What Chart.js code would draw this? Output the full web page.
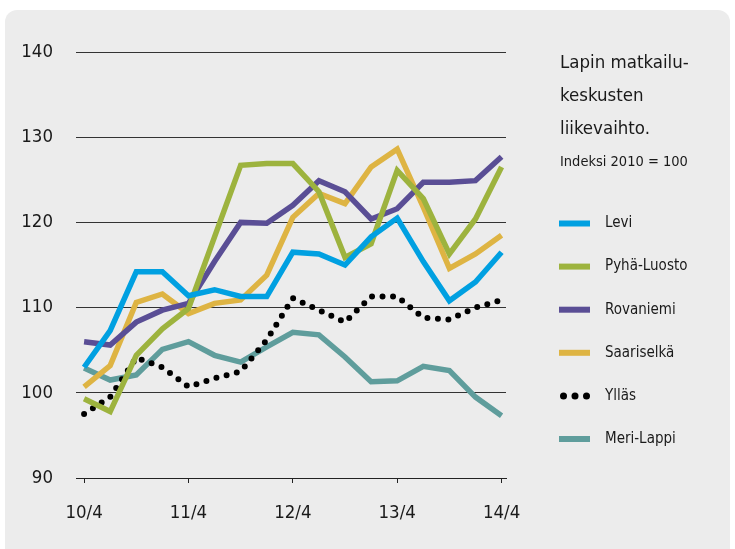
<!DOCTYPE html>
<html>
<head>
<meta charset="utf-8">
<title>Lapin matkailukeskusten liikevaihto</title>
<script src="https://cdn.jsdelivr.net/npm/chart.js@4.4.1/dist/chart.umd.min.js"></script>
<style>
  html, body { margin: 0; padding: 0; background: #ffffff; }
  #wrap { position: relative; width: 735px; height: 549px; overflow: hidden; }
  #card {
    position: absolute; left: 5px; top: 10px; width: 725px; height: 580px;
    background: #ececec; border-radius: 12px;
  }
  #myChart { position: absolute; left: 0; top: 0; }
</style>
</head>
<body>
<div id="wrap">
  <div id="card"></div>
  <canvas id="myChart" width="735" height="549"></canvas>
</div>
<script>
/////////////////////////////
// Data
/////////////////////////////

// quarters 10/4 .. 14/4
const quarters = ['10/4', '11/1', '11/2', '11/3', '11/4', '12/1', '12/2', '12/3', '12/4',
                  '13/1', '13/2', '13/3', '13/4', '14/1', '14/2', '14/3', '14/4'];
const tickLabels = ['10/4', '11/4', '12/4', '13/4', '14/4'];
const yTicks = [90, 100, 110, 120, 130, 140];

const levi       = [103.0, 107.3, 114.2, 114.2, 111.4, 112.1, 111.3, 111.3, 116.5, 116.3, 115.0, 118.3, 120.5, 115.4, 110.8, 113.0, 116.5];
const pyhaLuosto = [99.3, 97.8, 104.4, 107.5, 109.9, 118.3, 126.7, 126.9, 126.9, 123.6, 115.9, 117.5, 126.1, 122.8, 116.3, 120.4, 126.5];
const rovaniemi  = [106.0, 105.6, 108.3, 109.7, 110.5, 115.4, 120.0, 119.9, 122.0, 124.9, 123.6, 120.4, 121.6, 124.7, 124.7, 124.9, 127.7];
const saariselka = [100.7, 103.2, 110.6, 111.6, 109.3, 110.5, 110.9, 113.8, 120.6, 123.4, 122.2, 126.5, 128.6, 121.8, 114.6, 116.3, 118.5];
const yllas      = [97.5, 99.5, 104.1, 103.0, 100.7, 101.7, 102.5, 106.2, 111.1, 109.7, 108.3, 111.3, 111.3, 108.8, 108.6, 110.0, 110.9];
const meriLappi  = [102.9, 101.5, 102.1, 105.1, 106.0, 104.4, 103.6, 105.4, 107.1, 106.8, 104.2, 101.3, 101.4, 103.1, 102.6, 99.5, 97.3];

const titleLines = ['Lapin matkailu-', 'keskusten', 'liikevaihto.'];
const subTitle = 'Indeksi 2010 = 100';

const FONT = '"Liberation Sans Narrow", "DejaVu Sans Condensed", "Roboto", sans-serif';

/////////////////////////////
// Helpers
/////////////////////////////

function toPoints(values) {
  return values.map((v, i) => ({ x: i, y: v }));
}

function series(label, values, color, dotted) {
  return {
    label: label,
    data: toPoints(values),
    borderColor: color,
    backgroundColor: color,
    borderWidth: dotted ? 6 : 5.5,
    borderCapStyle: dotted ? 'round' : 'butt',
    borderJoinStyle: 'miter',
    borderDash: dotted ? [0, 10.5] : [],
    pointRadius: 0,
    tension: 0,
    dotted: dotted
  };
}

// Title + legend on the right side
const sideLegend = {
  id: 'sideLegend',
  afterDraw(chart) {
    const ctx = chart.ctx;
    const x0 = 560;
    ctx.save();
    ctx.fillStyle = '#1a1a1a';
    ctx.textBaseline = 'middle';
    ctx.textAlign = 'left';
    ctx.font = '18.5px ' + FONT;
    titleLines.forEach((t, i) => ctx.fillText(t, x0, 63 + i * 33));
    ctx.font = '14.5px ' + FONT;
    ctx.fillText(subTitle, x0, 162);

    chart.data.datasets.forEach((ds, i) => {
      const y = 223.5 + i * 43.1;
      ctx.fillStyle = ds.borderColor;
      if (ds.dotted) {
        [563.5, 575, 586.5].forEach(cx => {
          ctx.beginPath();
          ctx.arc(cx, y, 3.5, 0, Math.PI * 2);
          ctx.fill();
        });
      } else {
        ctx.fillRect(559, y - 3, 31, 6);
      }
      ctx.fillStyle = '#1a1a1a';
      ctx.font = '15px ' + FONT;
      ctx.fillText(ds.label, 605, y);
    });
    ctx.restore();
  }
};

/////////////////////////////
// Chart
/////////////////////////////

const ctx = document.getElementById('myChart').getContext('2d');
const myChart = new Chart(ctx, {
  type: 'line',
  data: {
    datasets: [
      series('Levi', levi, '#00a0e1', false),
      series('Pyhä-Luosto', pyhaLuosto, '#9db33e', false),
      series('Rovaniemi', rovaniemi, '#5a4e95', false),
      series('Saariselkä', saariselka, '#deb443', false),
      series('Ylläs', yllas, '#000000', true),
      series('Meri-Lappi', meriLappi, '#5f9d9c', false)
    ]
  },
  options: {
    responsive: false,
    animation: false,
    layout: { padding: { top: 52, right: 229, left: 0, bottom: 0 } },
    plugins: {
      legend: { display: false },
      tooltip: { enabled: false }
    },
    scales: {
      x: {
        type: 'linear',
        min: -0.31,
        max: 16.17,
        afterBuildTicks: (scale) => {
          scale.ticks = tickLabels.map((t, i) => ({ value: i * 4 }));
        },
        afterFit: (scale) => { scale.height = 549 - 478; },
        ticks: {
          callback: (v) => tickLabels[v / 4],
          font: { family: FONT, size: 18.5 },
          color: '#1a1a1a',
          padding: 19,
          maxRotation: 0
        },
        grid: { drawOnChartArea: false, drawTicks: true, tickLength: 5, color: '#222', lineWidth: 1 },
        border: { display: true, color: '#222', width: 1 }
      },
      y: {
        min: 90,
        max: 140,
        afterBuildTicks: (scale) => {
          scale.ticks = yTicks.map(v => ({ value: v }));
        },
        afterFit: (scale) => { scale.width = 76; },
        ticks: {
          font: { family: FONT, size: 18.5 },
          color: '#1a1a1a',
          padding: 23
        },
        grid: { drawTicks: false, color: '#333', lineWidth: 1 },
        border: { display: false }
      }
    }
  },
  plugins: [sideLegend]
});
</script>
</body>
</html>
